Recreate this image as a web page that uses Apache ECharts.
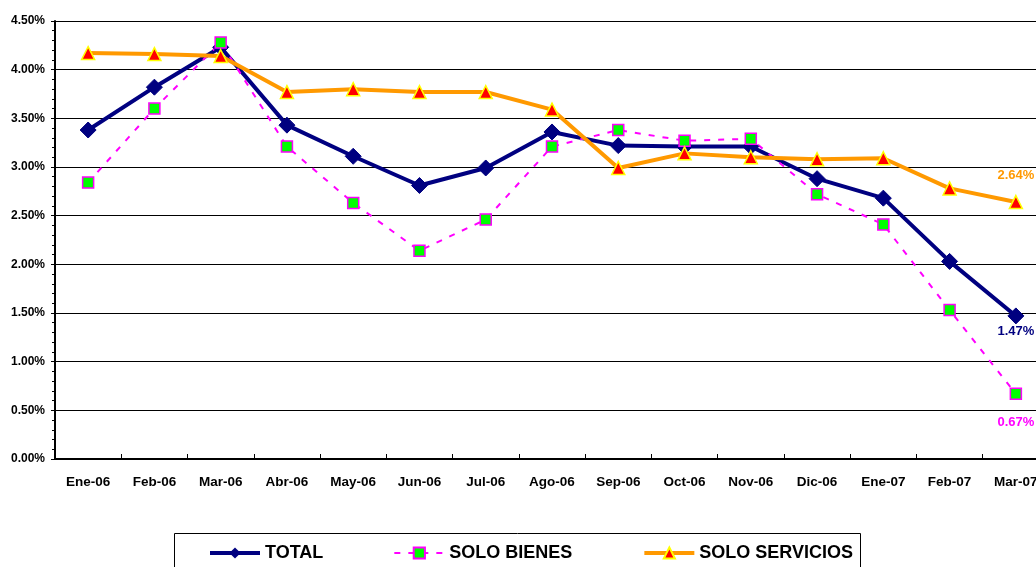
<!DOCTYPE html>
<html>
<head>
<meta charset="utf-8">
<script src="https://cdn.jsdelivr.net/npm/echarts@6/dist/echarts.min.js"></script>
<style>
  html, body { margin: 0; padding: 0; background: #fff; }
  #chart { width: 1036px; height: 567px; }
</style>
</head>
<body>
<div id="chart"></div>
<script>
var meses = ['Ene-06', 'Feb-06', 'Mar-06', 'Abr-06', 'May-06', 'Jun-06', 'Jul-06', 'Ago-06',
             'Sep-06', 'Oct-06', 'Nov-06', 'Dic-06', 'Ene-07', 'Feb-07', 'Mar-07'];
// valores en %
var total = [3.38, 3.82, 4.23, 3.43, 3.11, 2.81, 2.99, 3.36, 3.22, 3.21, 3.21, 2.88, 2.68, 2.03, 1.47];
var soloBienes = [2.84, 3.60, 4.28, 3.21, 2.63, 2.14, 2.46, 3.21, 3.38, 3.27, 3.29, 2.72, 2.41, 1.53, 0.67];
var soloServicios = [4.17, 4.16, 4.14, 3.77, 3.80, 3.77, 3.77, 3.59, 2.99, 3.14, 3.10, 3.08, 3.09, 2.78, 2.64];

var fuente = 'Liberation Sans, Arial, sans-serif';
var chart = echarts.init(document.getElementById('chart'));

// solo el ultimo punto lleva etiqueta
function conEtiqueta(valores, color, posicion, distancia) {
    return valores.map(function (v, i) {
        if (i < valores.length - 1) return v;
        return {
            value: v,
            label: {
                show: true,
                position: posicion,
                distance: distancia,
                color: color,
                fontWeight: 'bold',
                fontSize: 13,
                fontFamily: fuente,
                formatter: function (p) { return p.value.toFixed(2) + '%'; }
            }
        };
    });
}

var option = {
    animation: false,
    backgroundColor: '#fff',
    grid: {
        left: 55,
        top: 21,
        width: 994,
        height: 438,
        outerBoundsMode: 'none'
    },
    graphic: [{
        type: 'rect',
        left: 172,
        top: 531,
        shape: { width: 686, height: 60 },
        style: { fill: 'none', stroke: '#000', lineWidth: 1 },
        z: 0
    }],
    legend: {
        left: 203,
        top: 539,
        itemGap: 70,
        itemWidth: 50,
        itemHeight: 14,
        textStyle: {
            fontFamily: fuente,
            fontWeight: 'bold',
            fontSize: 18,
            color: '#000'
        },
        data: [
            { name: 'TOTAL', lineStyle: { width: 4 } },
            { name: 'SOLO BIENES', lineStyle: { width: 2 } },
            { name: 'SOLO SERVICIOS', lineStyle: { width: 4 } }
        ]
    },
    xAxis: {
        type: 'category',
        data: meses,
        boundaryGap: true,
        axisLine: { lineStyle: { color: '#000', width: 2 } },
        axisTick: { show: true, inside: true, length: 5, lineStyle: { color: '#000' } },
        axisLabel: {
            margin: 16,
            color: '#000',
            fontWeight: 'bold',
            fontSize: 13.5,
            fontFamily: fuente
        }
    },
    yAxis: {
        type: 'value',
        min: 0,
        max: 4.5,
        interval: 0.5,
        axisLine: { show: true, lineStyle: { color: '#000', width: 2 } },
        axisTick: { show: true, length: 4, lineStyle: { color: '#000' } },
        minorTick: { show: true, splitNumber: 5, length: 3, lineStyle: { color: '#000' } },
        splitLine: { show: true, lineStyle: { color: '#000', width: 1 } },
        axisLabel: {
            margin: 10,
            color: '#000',
            fontWeight: 'bold',
            fontSize: 12,
            fontFamily: fuente,
            formatter: function (v) { return v.toFixed(2) + '%'; }
        }
    },
    series: [
        {
            name: 'TOTAL',
            type: 'line',
            data: conEtiqueta(total, '#000080', 'bottom', 1),
            symbol: 'diamond',
            symbolSize: 16,
            lineStyle: { color: '#000080', width: 4 },
            itemStyle: { color: '#000080', borderColor: '#000080' }
        },
        {
            name: 'SOLO BIENES',
            type: 'line',
            data: conEtiqueta(soloBienes, '#FF00FF', 'bottom', 16),
            symbol: 'rect',
            symbolSize: 11,
            lineStyle: { color: '#FF00FF', width: 2, type: [6, 8] },
            itemStyle: { color: '#00FF00', borderColor: '#FF00FF', borderWidth: 1.5 }
        },
        {
            name: 'SOLO SERVICIOS',
            type: 'line',
            data: conEtiqueta(soloServicios, '#FF9900', 'top', 13),
            symbol: 'triangle',
            symbolSize: 13,
            lineStyle: { color: '#FF9900', width: 4 },
            itemStyle: { color: '#FF0000', borderColor: '#FFFF00', borderWidth: 1.5 }
        }
    ]
};

chart.setOption(option);
</script>
</body>
</html>
